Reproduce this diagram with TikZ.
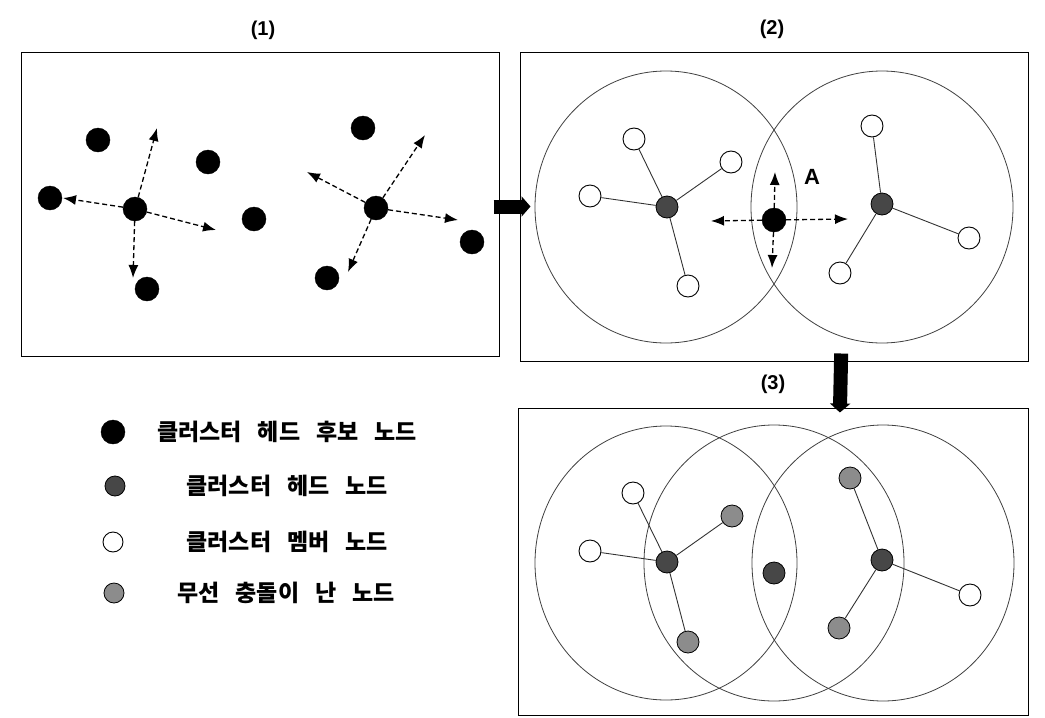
\documentclass[tikz,border=0pt]{standalone}
\usepackage{fontspec}
\newfontfamily\kr{Noto Sans CJK KR}[WordSpace=3]
\newfontfamily\lab{Liberation Sans}
\usetikzlibrary{arrows.meta}
\begin{document}
\begin{tikzpicture}[x=1pt,y=-1pt,
  panel/.style={draw=black, line width=1pt, inner sep=0pt},
  lbl/.style={font=\lab\bfseries\fontsize{20}{22}\selectfont},
  cand/.style={circle, fill=black, draw=black, minimum size=24pt, inner sep=0pt},
  head/.style={circle, fill=black!72, draw=black, line width=0.8pt, minimum size=22pt, inner sep=0pt},
  member/.style={circle, fill=white, draw=black, line width=0.9pt, minimum size=22pt, inner sep=0pt},
  coll/.style={circle, fill=black!45, draw=black, line width=0.8pt, minimum size=22pt, inner sep=0pt},
  rangecirc/.style={draw=black!75, line width=0.8pt},
  link/.style={draw=black!80, line width=0.9pt},
  darrow/.style={draw=black, line width=1.3pt, dash pattern=on 5pt off 3pt, -{Latex[length=13pt,width=10pt]}},
  bigarrow/.style={draw=black, line width=14pt, -{Triangle[length=9pt,width=20pt]}},
  legtext/.style={font=\kr\bfseries\fontsize{23}{26}\selectfont}
]
\useasboundingbox (0,0) rectangle (1045,718);

% panels
\node[panel, minimum width=478pt, minimum height=304pt] (P1) at (260,204) {};
\node[panel, minimum width=508pt, minimum height=309pt] (P2) at (774,206.5) {};
\node[panel, minimum width=510pt, minimum height=307pt] (P3) at (773,561.5) {};
\node[lbl] (L1) at (263,30) {(1)};
\node[lbl] (L2) at (772,29) {(2)};
\node[lbl] (L3) at (773,384) {(3)};

% panel 1
\node[cand] (a1) at (98,140) {};
\node[cand] (a2) at (208,162) {};
\node[cand] (a3) at (50,198) {};
\node[cand] (h1) at (135,209) {};
\node[cand] (a4) at (254,219) {};
\node[cand] (a5) at (147,289) {};
\node[cand] (b1) at (363,128) {};
\node[cand] (h2) at (376,208) {};
\node[cand] (b2) at (472,242) {};
\node[cand] (b3) at (327,278) {};
\coordinate (e11) at (157,128);
\coordinate (e12) at (63,198);
\coordinate (e13) at (216,230);
\coordinate (e14) at (133,278);
\coordinate (e21) at (425,135);
\coordinate (e22) at (307,172);
\coordinate (e23) at (458,220);
\coordinate (e24) at (348,272);
\foreach \e in {e11,e12,e13,e14} \draw[darrow] (h1) -- (\e);
\foreach \e in {e21,e22,e23,e24} \draw[darrow] (h2) -- (\e);

% arrows between panels
\draw[bigarrow, shorten <=-6pt, shorten >=-11pt] (P1.east |- P2.west) -- (P2.west);
\draw[bigarrow, shorten <=-8pt, shorten >=-5pt] ([xshift=67pt]P2.south) -- ([xshift=67pt]P3.north);

% panel 2
\coordinate (c21) at (666,207);
\coordinate (c22) at (882,207);
\draw[rangecirc] (c21) ellipse [x radius=131pt, y radius=136pt];
\draw[rangecirc] (c22) ellipse [x radius=131pt, y radius=136pt];
\node[head] (H21) at (667,207) {};
\node[member] (m21) at (634,139) {};
\node[member] (m22) at (731,162) {};
\node[member] (m23) at (590,196) {};
\node[member] (m24) at (688,286) {};
\node[head] (H22) at (882,204) {};
\node[member] (m25) at (872,126) {};
\node[member] (m26) at (969,238) {};
\node[member] (m27) at (840,273) {};
\foreach \m in {m21,m22,m23,m24} \draw[link] (H21) -- (\m);
\foreach \m in {m25,m26,m27} \draw[link] (H22) -- (\m);
\node[cand] (A) at (774,220) {};
\node[font=\lab\bfseries\fontsize{22}{24}\selectfont] (Alab) at (812,177) {A};
\coordinate (eA1) at (775,172);
\coordinate (eA2) at (772,268);
\coordinate (eA3) at (711,221);
\coordinate (eA4) at (848,219);
\foreach \e in {eA1,eA2,eA3,eA4} \draw[darrow] (A) -- (\e);

% panel 3
\coordinate (c31) at (666,563);
\coordinate (c32) at (774,563);
\coordinate (c33) at (883,563);
\draw[rangecirc] (c31) ellipse [x radius=131pt, y radius=137pt];
\draw[rangecirc] (c32) ellipse [x radius=130pt, y radius=138pt];
\draw[rangecirc] (c33) ellipse [x radius=131pt, y radius=138pt];
\node[head] (H31) at (667,562) {};
\node[member] (n31) at (633,493) {};
\node[coll] (n32) at (732,516) {};
\node[member] (n33) at (590,551) {};
\node[coll] (n34) at (688,642) {};
\node[head] (H32) at (882,560) {};
\node[coll] (n35) at (850,478) {};
\node[member] (n36) at (970,595) {};
\node[coll] (n37) at (839,628) {};
\node[head] (M3) at (774,573) {};
\foreach \m in {n31,n32,n33,n34} \draw[link] (H31) -- (\m);
\foreach \m in {n35,n36,n37} \draw[link] (H32) -- (\m);

% legend
\node[cand] (g1) at (113,432) {};
\node[head, minimum size=20pt] (g2) at (115,486) {};
\node[member, minimum size=20pt] (g3) at (113,542) {};
\node[coll, minimum size=20pt] (g4) at (114,593) {};
\node[legtext] (t1) at (287,432) {클러스터 헤드 후보 노드};
\node[legtext] (t2) at (287,486) {클러스터 헤드 노드};
\node[legtext] (t3) at (287,542) {클러스터 멤버 노드};
\node[legtext] (t4) at (286,593) {무선 충돌이 난 노드};
\end{tikzpicture}
\end{document}
